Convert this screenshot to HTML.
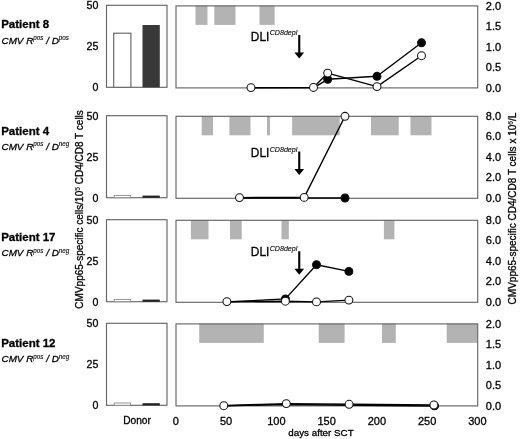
<!DOCTYPE html><html><head><meta charset="utf-8"><style>html,body{margin:0;padding:0;background:#fff}svg{display:block;filter:blur(0.45px)}text{font-family:"Liberation Sans",sans-serif;fill:#000;stroke:#000;stroke-width:0.3px}</style></head><body>
<svg width="520" height="439" viewBox="0 0 520 439">
<rect width="520" height="439" fill="#fff"/>
<rect x="195.5" y="5.6" width="12.0" height="19.3" fill="#b3b3b3"/>
<rect x="214.3" y="5.6" width="21.2" height="19.3" fill="#b3b3b3"/>
<rect x="259.5" y="5.6" width="15.1" height="19.3" fill="#b3b3b3"/>
<rect x="201.7" y="116.0" width="11.3" height="19.3" fill="#b3b3b3"/>
<rect x="229.4" y="116.0" width="21.1" height="19.3" fill="#b3b3b3"/>
<rect x="267.0" y="116.0" width="3.0" height="19.3" fill="#b3b3b3"/>
<rect x="292.1" y="116.0" width="47.6" height="19.3" fill="#b3b3b3"/>
<rect x="371.0" y="116.0" width="27.7" height="19.3" fill="#b3b3b3"/>
<rect x="410.5" y="116.0" width="21.0" height="19.3" fill="#b3b3b3"/>
<rect x="190.9" y="220.0" width="17.6" height="19.3" fill="#b3b3b3"/>
<rect x="230.0" y="220.0" width="11.7" height="19.3" fill="#b3b3b3"/>
<rect x="281.5" y="220.0" width="7.3" height="19.3" fill="#b3b3b3"/>
<rect x="383.9" y="220.0" width="10.5" height="19.3" fill="#b3b3b3"/>
<rect x="199.2" y="323.6" width="64.6" height="19.3" fill="#b3b3b3"/>
<rect x="318.7" y="323.6" width="25.9" height="19.3" fill="#b3b3b3"/>
<rect x="382.0" y="323.6" width="13.8" height="19.3" fill="#b3b3b3"/>
<rect x="446.7" y="323.6" width="30.8" height="19.3" fill="#b3b3b3"/>
<rect x="106.5" y="5.3" width="60.5" height="82.0" fill="none" stroke="#666" stroke-width="1.15"/>
<rect x="176.0" y="5.8999999999999995" width="301.7" height="82.0" fill="none" stroke="#666" stroke-width="1.15"/>
<rect x="106.5" y="115.7" width="60.5" height="82.0" fill="none" stroke="#666" stroke-width="1.15"/>
<rect x="176.0" y="116.3" width="301.7" height="82.0" fill="none" stroke="#666" stroke-width="1.15"/>
<rect x="106.5" y="219.7" width="60.5" height="82.0" fill="none" stroke="#666" stroke-width="1.15"/>
<rect x="176.0" y="220.3" width="301.7" height="82.0" fill="none" stroke="#666" stroke-width="1.15"/>
<rect x="106.5" y="323.3" width="60.5" height="82.0" fill="none" stroke="#666" stroke-width="1.15"/>
<rect x="176.0" y="323.90000000000003" width="301.7" height="82.0" fill="none" stroke="#666" stroke-width="1.15"/>
<rect x="113.7" y="33.2" width="17.2" height="54.099999999999994" fill="#fff" stroke="#666" stroke-width="1.15"/>
<rect x="142.5" y="25" width="17.3" height="62.3" fill="#383838"/>
<rect x="114.2" y="195.4" width="16.4" height="2.3" fill="#fff" stroke="#8a8a8a" stroke-width="0.9"/>
<rect x="142.5" y="195.6" width="17.3" height="2.2" fill="#222"/>
<rect x="114.2" y="299.4" width="16.4" height="2.3" fill="#fff" stroke="#8a8a8a" stroke-width="0.9"/>
<rect x="142.5" y="299.6" width="17.3" height="2.2" fill="#222"/>
<rect x="114.2" y="403.0" width="16.4" height="2.3" fill="#fff" stroke="#8a8a8a" stroke-width="0.9"/>
<rect x="142.5" y="403.20000000000005" width="17.3" height="2.2" fill="#222"/>
<text x="98.3" y="9.4" font-size="10.6" text-anchor="end">50</text>
<text x="98.3" y="50.4" font-size="10.6" text-anchor="end">25</text>
<text x="98.3" y="91.4" font-size="10.6" text-anchor="end">0</text>
<text x="98.3" y="119.8" font-size="10.6" text-anchor="end">50</text>
<text x="98.3" y="160.8" font-size="10.6" text-anchor="end">25</text>
<text x="98.3" y="201.8" font-size="10.6" text-anchor="end">0</text>
<text x="98.3" y="223.8" font-size="10.6" text-anchor="end">50</text>
<text x="98.3" y="264.8" font-size="10.6" text-anchor="end">25</text>
<text x="98.3" y="305.8" font-size="10.6" text-anchor="end">0</text>
<text x="98.3" y="327.4" font-size="10.6" text-anchor="end">50</text>
<text x="98.3" y="368.4" font-size="10.6" text-anchor="end">25</text>
<text x="98.3" y="409.4" font-size="10.6" text-anchor="end">0</text>
<text x="485.8" y="9.5" font-size="11">2.0</text>
<text x="485.8" y="30.0" font-size="11">1.5</text>
<text x="485.8" y="50.5" font-size="11">1.0</text>
<text x="485.8" y="71.0" font-size="11">0.5</text>
<text x="485.8" y="91.5" font-size="11">0.0</text>
<text x="485.8" y="119.9" font-size="11">8.0</text>
<text x="485.8" y="140.4" font-size="11">6.0</text>
<text x="485.8" y="160.9" font-size="11">4.0</text>
<text x="485.8" y="181.4" font-size="11">2.0</text>
<text x="485.8" y="201.9" font-size="11">0.0</text>
<text x="485.8" y="223.9" font-size="11">8.0</text>
<text x="485.8" y="244.4" font-size="11">6.0</text>
<text x="485.8" y="264.9" font-size="11">4.0</text>
<text x="485.8" y="285.4" font-size="11">2.0</text>
<text x="485.8" y="305.9" font-size="11">0.0</text>
<text x="485.8" y="327.5" font-size="11">2.0</text>
<text x="485.8" y="348.0" font-size="11">1.5</text>
<text x="485.8" y="368.5" font-size="11">1.0</text>
<text x="485.8" y="389.0" font-size="11">0.5</text>
<text x="485.8" y="409.5" font-size="11">0.0</text>
<text x="175.9" y="425.0" font-size="11" text-anchor="middle">0</text>
<text x="226.1" y="425.0" font-size="11" text-anchor="middle">50</text>
<text x="276.4" y="425.0" font-size="11" text-anchor="middle">100</text>
<text x="326.6" y="425.0" font-size="11" text-anchor="middle">150</text>
<text x="376.9" y="425.0" font-size="11" text-anchor="middle">200</text>
<text x="427.1" y="425.0" font-size="11" text-anchor="middle">250</text>
<text x="477.4" y="425.0" font-size="11" text-anchor="middle">300</text>
<text x="137" y="424" font-size="10.2" text-anchor="middle">Donor</text>
<text x="288.3" y="435.6" font-size="9.8">days after SCT</text>
<text transform="translate(82.6,209.4) rotate(-90)" font-size="10" stroke-width="0.2" text-anchor="middle">CMVpp65-specific cells/10<tspan font-size="6.8" dy="-3" stroke-width="0.1">5</tspan><tspan dy="3"> CD4/CD8 T cells</tspan></text>
<text transform="translate(515.8,208.5) rotate(-90)" font-size="10" stroke-width="0.2" text-anchor="middle">CMVpp65-specific CD4/CD8 T cells x 10<tspan font-size="6.8" dy="-3" stroke-width="0.1">6</tspan><tspan dy="3">/L</tspan></text>
<text x="1.2" y="27.7" font-size="11.5" font-weight="bold" fill="#000" stroke-width="0.15">Patient 8</text>
<text x="1.5" y="43.5" font-size="9.9" font-style="italic">CMV R<tspan font-size="6.3" dy="-3.3" stroke-width="0.1">pos</tspan><tspan dy="3.3"> / D</tspan><tspan font-size="6.3" dy="-3.3" stroke-width="0.1">pos</tspan></text>
<text x="1.2" y="134.7" font-size="11.5" font-weight="bold" fill="#000" stroke-width="0.15">Patient 4</text>
<text x="1.5" y="149.6" font-size="9.9" font-style="italic">CMV R<tspan font-size="6.3" dy="-3.3" stroke-width="0.1">pos</tspan><tspan dy="3.3"> / D</tspan><tspan font-size="6.3" dy="-3.3" stroke-width="0.1">neg</tspan></text>
<text x="1.2" y="240.8" font-size="11.5" font-weight="bold" fill="#000" stroke-width="0.15">Patient 17</text>
<text x="1.5" y="255.8" font-size="9.9" font-style="italic">CMV R<tspan font-size="6.3" dy="-3.3" stroke-width="0.1">pos</tspan><tspan dy="3.3"> / D</tspan><tspan font-size="6.3" dy="-3.3" stroke-width="0.1">neg</tspan></text>
<text x="1.2" y="347.0" font-size="11.5" font-weight="bold" fill="#000" stroke-width="0.15">Patient 12</text>
<text x="1.5" y="362.4" font-size="9.9" font-style="italic">CMV R<tspan font-size="6.3" dy="-3.3" stroke-width="0.1">pos</tspan><tspan dy="3.3"> / D</tspan><tspan font-size="6.3" dy="-3.3" stroke-width="0.1">neg</tspan></text>
<text x="250.8" y="40.8" font-size="11.9" fill="#000">DLI<tspan font-size="7.1" font-style="italic" dy="-5.6" dx="0.4" stroke-width="0.1">CD8depl</tspan></text>
<path d="M298.2 35.0 H300.3 V52.5 H304.1 L299.25 58.5 L294.4 52.5 H298.2 Z" fill="#000"/>
<text x="250.8" y="157.3" font-size="11.9" fill="#000">DLI<tspan font-size="7.1" font-style="italic" dy="-5.6" dx="0.4" stroke-width="0.1">CD8depl</tspan></text>
<path d="M298.2 151.5 H300.3 V169.0 H304.1 L299.25 175.0 L294.4 169.0 H298.2 Z" fill="#000"/>
<text x="250.8" y="256.4" font-size="11.9" fill="#000">DLI<tspan font-size="7.1" font-style="italic" dy="-5.6" dx="0.4" stroke-width="0.1">CD8depl</tspan></text>
<path d="M298.2 251.3 H300.3 V268.7 H304.1 L299.25 274.7 L294.4 268.7 H298.2 Z" fill="#000"/>
<polyline fill="none" stroke="#000" stroke-width="1.4" stroke-linejoin="round" points="251,87.8 313.5,87.8 327.7,79.3 377,76.3 421.5,42.8"/>
<polyline fill="none" stroke="#000" stroke-width="1.4" stroke-linejoin="round" points="251,87.6 313.5,87.4 327.7,73.1 377,86.6 421.5,55.7"/>
<circle cx="327.7" cy="79.3" r="3.95" fill="#000" stroke="#111" stroke-width="1.05"/>
<circle cx="377" cy="76.3" r="3.95" fill="#000" stroke="#111" stroke-width="1.05"/>
<circle cx="421.5" cy="42.8" r="3.95" fill="#000" stroke="#111" stroke-width="1.05"/>
<circle cx="251" cy="87.6" r="3.95" fill="#fff" stroke="#111" stroke-width="1.05"/>
<circle cx="313.5" cy="87.4" r="3.95" fill="#fff" stroke="#111" stroke-width="1.05"/>
<circle cx="327.7" cy="73.1" r="3.95" fill="#fff" stroke="#111" stroke-width="1.05"/>
<circle cx="377" cy="86.6" r="3.95" fill="#fff" stroke="#111" stroke-width="1.05"/>
<circle cx="421.5" cy="55.7" r="3.95" fill="#fff" stroke="#111" stroke-width="1.05"/>
<polyline fill="none" stroke="#000" stroke-width="1.5" stroke-linejoin="round" points="239.5,198 304.2,198 345,198"/>
<polyline fill="none" stroke="#000" stroke-width="1.4" stroke-linejoin="round" points="239.5,197.6 304.2,197.4 345,116.3"/>
<circle cx="345" cy="198" r="3.95" fill="#000" stroke="#111" stroke-width="1.05"/>
<circle cx="239.5" cy="197.6" r="3.95" fill="#fff" stroke="#111" stroke-width="1.05"/>
<circle cx="304.2" cy="197.4" r="3.95" fill="#fff" stroke="#111" stroke-width="1.05"/>
<circle cx="345" cy="116.3" r="3.95" fill="#fff" stroke="#111" stroke-width="1.05"/>
<polyline fill="none" stroke="#000" stroke-width="1.4" stroke-linejoin="round" points="226.9,302 285.4,298.9 316.5,264.7 348.9,271.4"/>
<polyline fill="none" stroke="#000" stroke-width="1.4" stroke-linejoin="round" points="226.9,301.6 285.4,301.2 316.5,301.9 348.9,300.1"/>
<circle cx="285.4" cy="298.9" r="3.95" fill="#000" stroke="#111" stroke-width="1.05"/>
<circle cx="316.5" cy="264.7" r="3.95" fill="#000" stroke="#111" stroke-width="1.05"/>
<circle cx="348.9" cy="271.4" r="3.95" fill="#000" stroke="#111" stroke-width="1.05"/>
<circle cx="226.9" cy="301.6" r="3.95" fill="#fff" stroke="#111" stroke-width="1.05"/>
<circle cx="285.4" cy="301.2" r="3.95" fill="#fff" stroke="#111" stroke-width="1.05"/>
<circle cx="316.5" cy="301.9" r="3.95" fill="#fff" stroke="#111" stroke-width="1.05"/>
<circle cx="348.9" cy="300.1" r="3.95" fill="#fff" stroke="#111" stroke-width="1.05"/>
<polyline fill="none" stroke="#000" stroke-width="1.5" stroke-linejoin="round" points="223.8,405.8 286.3,404.4 349.1,405.2 434.5,405.9"/>
<polyline fill="none" stroke="#000" stroke-width="1.4" stroke-linejoin="round" points="223.8,405.7 286.3,403.6 349.1,404.3 433.9,405.0"/>
<circle cx="434.5" cy="405.9" r="3.95" fill="#000" stroke="#111" stroke-width="1.05"/>
<circle cx="223.8" cy="405.7" r="3.95" fill="#fff" stroke="#111" stroke-width="1.05"/>
<circle cx="286.3" cy="403.6" r="3.95" fill="#fff" stroke="#111" stroke-width="1.05"/>
<circle cx="349.1" cy="404.3" r="3.95" fill="#fff" stroke="#111" stroke-width="1.05"/>
<circle cx="433.9" cy="405.0" r="3.95" fill="#fff" stroke="#111" stroke-width="1.05"/>
</svg></body></html>
